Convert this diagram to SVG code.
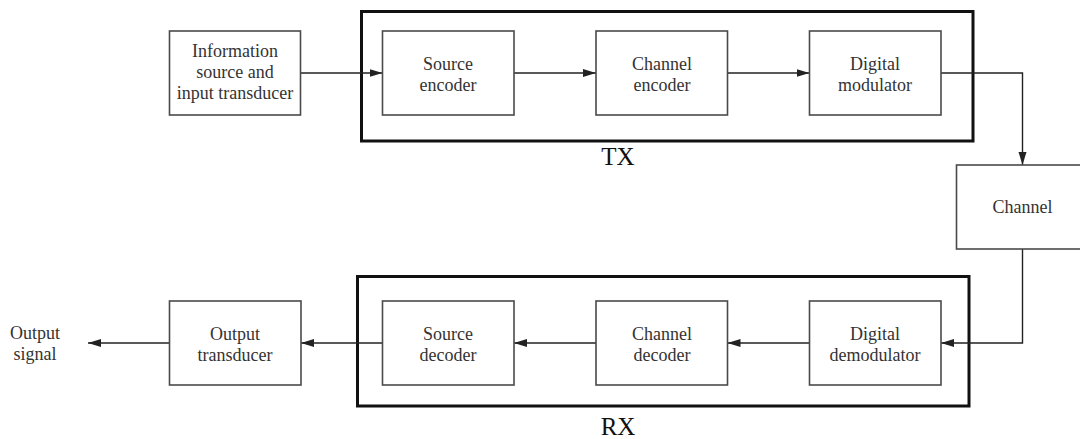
<svg xmlns="http://www.w3.org/2000/svg" width="1080" height="439" viewBox="0 0 1080 439">
<style>
.box{fill:#fff;stroke:#4a4a4a;stroke-width:1.6}
.cont{fill:none;stroke:#111;stroke-width:3}
.t{font-family:"Liberation Serif","Times New Roman",serif;font-size:18px;fill:#333;text-anchor:middle}
.big{font-family:"Liberation Serif","Times New Roman",serif;font-size:25px;fill:#111;text-anchor:middle}
.c{fill:none;stroke:#222;stroke-width:1.4}
</style>
<defs>
<marker id="ah" markerUnits="userSpaceOnUse" markerWidth="14" markerHeight="9" refX="13" refY="4.5" orient="auto">
<path d="M0,0.5 L13,4.5 L0,8.5 z" fill="#222"/>
</marker>
</defs>
<rect width="1080" height="439" fill="#fff"/>
<g id="tx">
<rect class="cont" x="361.5" y="11.5" width="611.5" height="129.5"/>
<text class="big" x="618" y="165">TX</text>
</g>
<g id="rx">
<rect class="cont" x="357.5" y="276.5" width="611.5" height="129.5"/>
<text class="big" x="618" y="435">RX</text>
</g>
<g id="connectors">
<path class="c" d="M300.5,73 H382.5" marker-end="url(#ah)"/>
<path class="c" d="M514,73 H596" marker-end="url(#ah)"/>
<path class="c" d="M727.5,73 H809.5" marker-end="url(#ah)"/>
<path class="c" d="M941,73 H1022.5 V165" marker-end="url(#ah)"/>
<path class="c" d="M1022.5,249 V343 H941" marker-end="url(#ah)"/>
<path class="c" d="M809.5,343 H727.5" marker-end="url(#ah)"/>
<path class="c" d="M596,343 H514" marker-end="url(#ah)"/>
<path class="c" d="M382.5,343 H301" marker-end="url(#ah)"/>
<path class="c" d="M169.5,343 H88" marker-end="url(#ah)"/>
</g>
<g id="info">
<rect class="box" x="169.5" y="31" width="131" height="84"/>
<text class="t" x="235" y="57">Information</text>
<text class="t" x="235" y="78">source and</text>
<text class="t" x="235" y="99">input transducer</text>
</g>
<g id="src-enc">
<rect class="box" x="382.5" y="31" width="131.5" height="84"/>
<text class="t" x="448" y="70">Source</text>
<text class="t" x="448" y="90.5">encoder</text>
</g>
<g id="ch-enc">
<rect class="box" x="596" y="31" width="131.5" height="84"/>
<text class="t" x="662" y="70">Channel</text>
<text class="t" x="662" y="90.5">encoder</text>
</g>
<g id="mod">
<rect class="box" x="809.5" y="31" width="131.5" height="84"/>
<text class="t" x="875" y="70">Digital</text>
<text class="t" x="875" y="90.5">modulator</text>
</g>
<g id="channel">
<rect class="box" x="956.5" y="165" width="132" height="84"/>
<text class="t" x="1022.5" y="213">Channel</text>
</g>
<g id="demod">
<rect class="box" x="809.5" y="301" width="131.5" height="84"/>
<text class="t" x="875" y="340">Digital</text>
<text class="t" x="875" y="360.5">demodulator</text>
</g>
<g id="ch-dec">
<rect class="box" x="596" y="301" width="131.5" height="84"/>
<text class="t" x="662" y="340">Channel</text>
<text class="t" x="662" y="360.5">decoder</text>
</g>
<g id="src-dec">
<rect class="box" x="382.5" y="301" width="131.5" height="84"/>
<text class="t" x="448" y="340">Source</text>
<text class="t" x="448" y="360.5">decoder</text>
</g>
<g id="out-trans">
<rect class="box" x="169.5" y="301" width="131.5" height="84"/>
<text class="t" x="235" y="340">Output</text>
<text class="t" x="235" y="360.5">transducer</text>
</g>
<g id="out-signal">
<text class="t" x="35" y="339">Output</text>
<text class="t" x="35" y="360">signal</text>
</g>
</svg>
